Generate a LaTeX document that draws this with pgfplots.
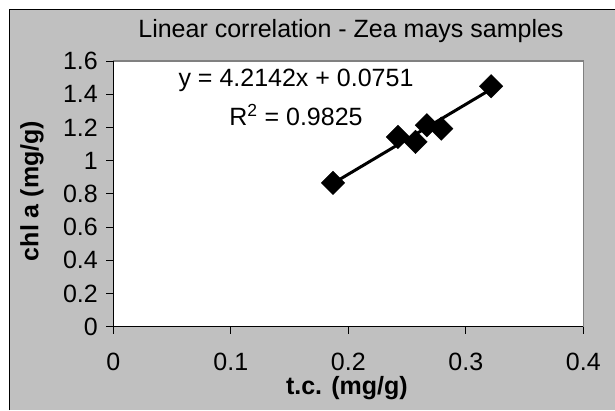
\documentclass[border=0pt]{standalone}
\usepackage{fontspec}
\setmainfont{Liberation Sans}
\usepackage{pgfplots}
\pgfplotsset{compat=1.18}
\definecolor{xlgray}{RGB}{192,192,192}
\definecolor{plotedge}{RGB}{128,128,128}
\newcommand{\bigfont}{\fontsize{25}{30}\selectfont}
\begin{document}
\begin{tikzpicture}[x=1pt,y=1pt,font=\bigfont]
  \useasboundingbox (0,0) rectangle (615,410);
  \fill[white] (0,0) rectangle (615,410);
  \fill[xlgray] (9,0) rectangle (615,400);
  \draw[black, line width=1pt] (9,0) -- (9,400) -- (615,400);
  \begin{axis}[
      at={(113.3pt,83.3pt)}, anchor=south west,
      scale only axis, width=470pt, height=265.7pt,
      xmin=0, xmax=0.4, ymin=0, ymax=1.6,
      xtick={0,0.1,0.2,0.3,0.4},
      ytick={0,0.2,0.4,0.6,0.8,1,1.2,1.4,1.6},
      axis background/.style={fill=white, draw=plotedge, line width=1.5pt},
      axis x line*=bottom, axis y line*=left,
      axis line style={black, line width=1pt},
      tick align=outside, major tick length=7pt,
      tick style={black, line width=0.8pt},
      /pgf/number format/assume math mode=true,
      xticklabel style={font=\bigfont, yshift=-16pt},
      yticklabel style={font=\bigfont, xshift=-5pt},
      title={Linear correlation - Zea mays samples},
      title style={font=\bigfont, at={(axis description cs:0.5057,1.0903)}, anchor=center},
      xlabel={t.c. (mg/g)},
      xlabel style={font=\bigfont\bfseries, at={(axis description cs:0.497,-0.2307)}, anchor=center},
      ylabel={chl a (mg/g)},
      ylabel style={font=\bigfont\bfseries, at={(axis description cs:-0.173,0.5107)}, anchor=center, rotate=0},
    ]
    % samples
    \addplot[only marks, mark=square*, mark size=8.3pt,
      mark options={rotate=45, fill=black, draw=black}]
      coordinates {(0.187,0.866) (0.2422,1.143) (0.2572,1.113)
                   (0.2668,1.213) (0.2791,1.193) (0.3216,1.448)};
    % linear trendline
    \addplot[black, line width=3pt] coordinates {(0.187,0.8632) (0.3216,1.4304)};
    \node[font=\bigfont] at (rel axis cs:0.3887,0.9285) {y = 4.2142x + 0.0751};
    \node[font=\bigfont] at (rel axis cs:0.3887,0.7968) {R\textsuperscript{2} = 0.9825};
  \end{axis}
\end{tikzpicture}
\end{document}
